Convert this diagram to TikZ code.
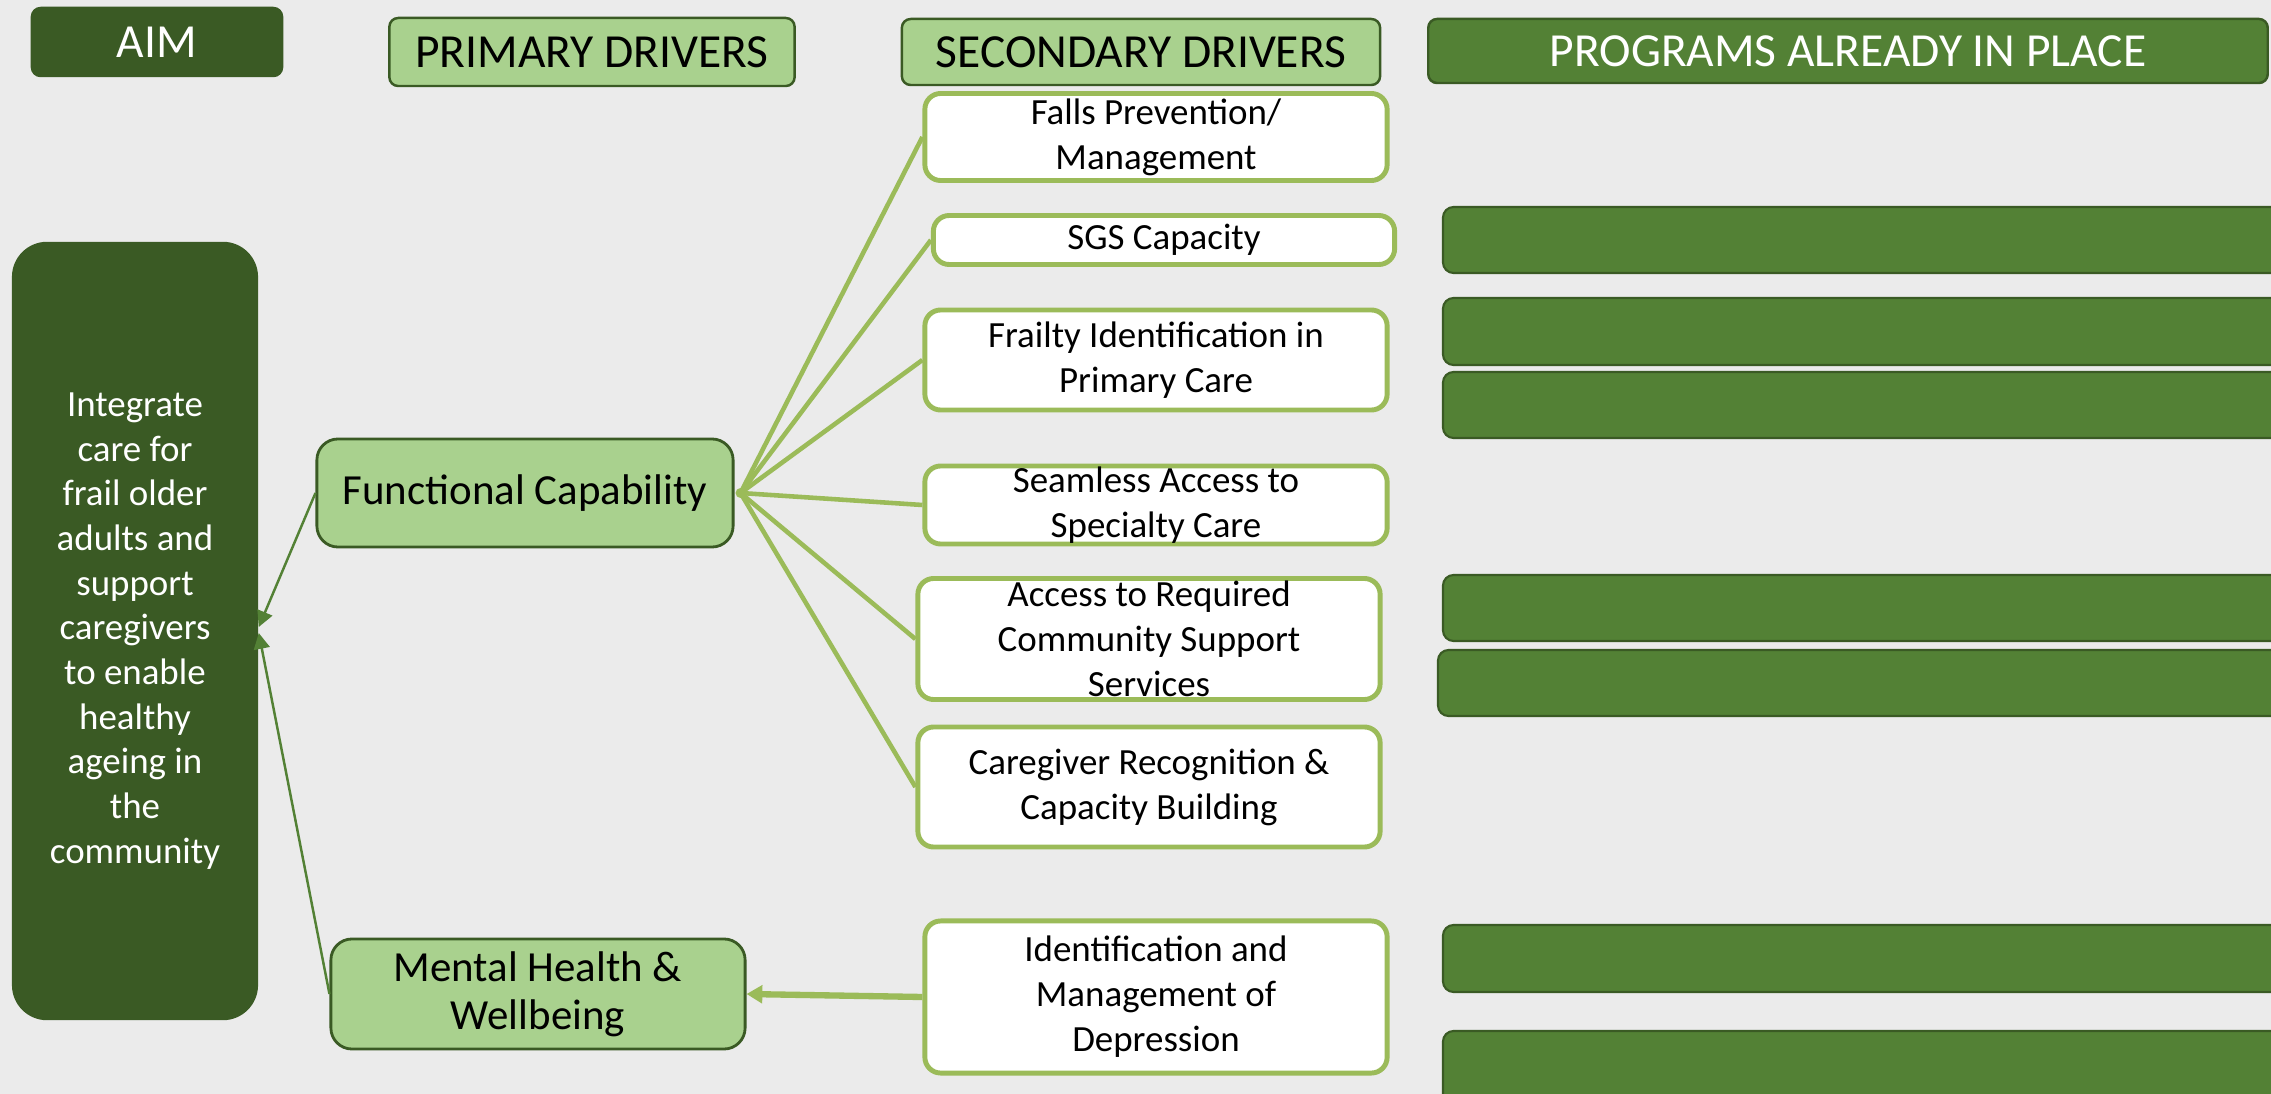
\documentclass[tikz,border=0pt]{standalone}
\usepackage{fontspec}
\setmainfont{Carlito}
\usepackage{xcolor}
\usetikzlibrary{arrows.meta}

\definecolor{bggrey}{HTML}{EBEBEB}
\definecolor{aimgreen}{HTML}{3A5A24}
\definecolor{midgreen}{HTML}{538135}
\definecolor{palegreen}{HTML}{A9D18E}
\definecolor{olivegreen}{HTML}{9BBB59}

\begin{document}
\begin{tikzpicture}[x=0.01cm, y=-0.01cm,
    header/.style={draw=aimgreen, line width=0.7pt, rounded corners=2.5pt, inner sep=0pt,
        font=\fontsize{13.5}{16}\selectfont},
    primbox/.style={draw=aimgreen, line width=0.8pt, fill=palegreen, rounded corners=6pt,
        align=center, inner ysep=0pt, font=\fontsize{12.2}{13.6}\selectfont},
    secbox/.style={draw=olivegreen, line width=1.4pt, fill=white, rounded corners=4.5pt,
        align=center, inner ysep=0pt, minimum width=4.62cm, font=\fontsize{10.5}{12.8}\selectfont},
    progbar/.style={draw=aimgreen, line width=0.6pt, fill=midgreen, rounded corners=3pt},
    feed/.style={olivegreen, line width=1.3pt},
    toaim/.style={midgreen, line width=0.7pt, -{Triangle[length=4.5pt,width=4.5pt]}}]

    \fill[bggrey] (0,0) rectangle (2271,1094);
    \useasboundingbox (0,0) rectangle (2271,1094);
    \clip (0,0) rectangle (2271,1094);

    % column headers
    \node[header, fill=aimgreen, text=white, minimum width=2.5cm, minimum height=0.68cm] (aimhead) at (157,42) {AIM};
    \node[header, fill=palegreen, minimum width=4.05cm, minimum height=0.68cm] (primhead) at (592,52) {PRIMARY DRIVERS};
    \node[header, fill=palegreen, minimum width=4.78cm, minimum height=0.66cm] (sechead) at (1141,52) {SECONDARY DRIVERS};
    \node[header, fill=midgreen, text=white, minimum width=8.39cm, minimum height=0.64cm] (proghead) at (1848,51) {PROGRAMS ALREADY IN PLACE};

    \node[fill=aimgreen, rounded corners=10pt, minimum width=2.46cm, minimum height=7.78cm,
        text=white, align=center, font=\fontsize{10.5}{12.7}\selectfont] (aim) at (135,631)
        {Integrate\\care for\\frail older\\adults and\\support\\caregivers\\to enable\\healthy\\ageing in\\the\\community};

    \node[primbox, minimum width=4.16cm, minimum height=1.08cm] (fc) at (525,493) {Functional Capability};
    \node[primbox, minimum width=4.14cm, minimum height=1.10cm] (mh) at (538,994) {Mental Health \&\\Wellbeing};

    \node[secbox, minimum height=0.87cm] (falls) at (1156,137) {Falls Prevention/\\Management};
    \node[secbox, minimum height=0.49cm, minimum width=4.61cm] (sgs) at (1164,240) {SGS Capacity};
    \node[secbox, minimum height=1.00cm] (frailty) at (1156,360) {Frailty Identification in\\Primary Care};
    \node[secbox, minimum height=0.78cm] (seamless) at (1156,505) {Seamless Access to\\Specialty Care};
    \node[secbox, minimum height=1.21cm] (access) at (1149,639) {Access to Required\\Community Support\\Services};
    \node[secbox, minimum height=1.20cm] (carer) at (1149,787) {Caregiver Recognition \&\\Capacity Building};
    \node[secbox, minimum height=1.52cm] (depr) at (1156,997) {Identification and\\Management of\\Depression};

    % programs (run off the right edge)
    \foreach \top/\bot/\lft in {207/273/1443, 298/365/1443, 372/438/1443, 575/641/1443,
                               650/716/1438, 925/992/1443, 1031/1110/1443}
        \draw[progbar] (\lft,\top) rectangle (2320,\bot);

    \coordinate (hub) at ([xshift=0.06cm]fc.east);
    \foreach \s in {falls,sgs,frailty,seamless,access,carer}
        \draw[feed] (hub) -- (\s.west);
    \fill[olivegreen] (hub) circle (0.05cm);

    \draw[feed, line width=1.8pt, -{Triangle[length=4.5pt,width=5pt]}] (depr.west) -- (mh.east);
    \draw[toaim] (fc.west) -- ([yshift=0.04cm]aim.east);
    \draw[toaim] (mh.west) -- ([yshift=-0.02cm]aim.east);
\end{tikzpicture}
\end{document}
